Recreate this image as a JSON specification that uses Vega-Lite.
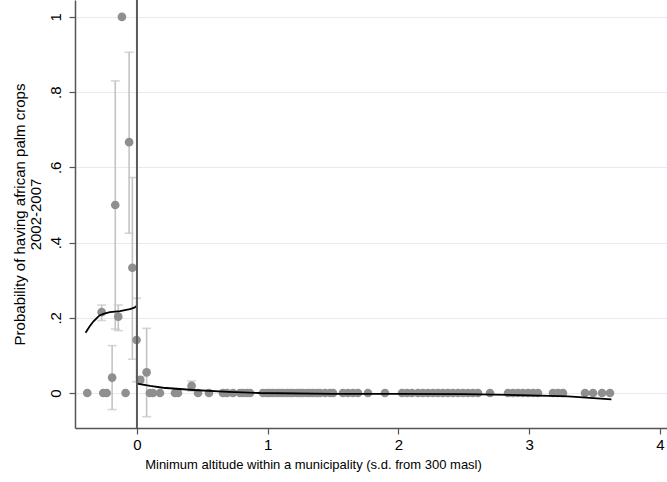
{
  "$schema": "https://vega.github.io/schema/vega-lite/v6.json",
  "width": 592,
  "height": 428,
  "autosize": {"type": "none"},
  "padding": {"left": 75, "top": 0, "right": 0, "bottom": 54},
  "config": {
    "view": {"stroke": null},
    "font": "Liberation Sans",
    "axis": {"labelFont": "Liberation Sans", "titleFont": "Liberation Sans", "labelColor": "#000", "titleColor": "#000", "titleFontWeight": "normal", "domainColor": "#555", "tickColor": "#555", "domainWidth": 1.5, "tickWidth": 1.2}
  },
  "datasets": {
    "pts": [
      {"x": -0.38, "y": 0},
      {"x": -0.27, "y": 0.215, "lo": 0.193, "hi": 0.234},
      {"x": -0.258, "y": 0},
      {"x": -0.232, "y": 0},
      {"x": -0.19, "y": 0.041, "lo": -0.044, "hi": 0.126},
      {"x": -0.166, "y": 0.5, "lo": 0.17, "hi": 0.83},
      {"x": -0.143, "y": 0.203, "lo": 0.166, "hi": 0.234},
      {"x": -0.115, "y": 1.0},
      {"x": -0.087, "y": 0},
      {"x": -0.06, "y": 0.667, "lo": 0.425, "hi": 0.906},
      {"x": -0.035, "y": 0.333, "lo": 0.09, "hi": 0.573},
      {"x": -0.003, "y": 0.141, "lo": 0.03, "hi": 0.252},
      {"x": 0.025, "y": 0.035, "lo": 0.028, "hi": 0.043},
      {"x": 0.074, "y": 0.055, "lo": -0.063, "hi": 0.172},
      {"x": 0.099, "y": 0}, {"x": 0.122, "y": 0}, {"x": 0.176, "y": 0},
      {"x": 0.291, "y": 0}, {"x": 0.314, "y": 0},
      {"x": 0.418, "y": 0.019, "lo": 0.005, "hi": 0.032},
      {"x": 0.467, "y": 0}, {"x": 0.551, "y": 0}, {"x": 0.658, "y": 0},
      {"x": 0.689, "y": 0}, {"x": 0.735, "y": 0}, {"x": 0.788, "y": 0},
      {"x": 0.811, "y": 0}, {"x": 0.842, "y": 0}, {"x": 0.865, "y": 0},
      {"x": 0.964, "y": 0}, {"x": 0.995, "y": 0}, {"x": 1.018, "y": 0},
      {"x": 1.041, "y": 0}, {"x": 1.071, "y": 0}, {"x": 1.094, "y": 0},
      {"x": 1.117, "y": 0}, {"x": 1.148, "y": 0}, {"x": 1.171, "y": 0},
      {"x": 1.194, "y": 0}, {"x": 1.224, "y": 0}, {"x": 1.247, "y": 0},
      {"x": 1.27, "y": 0}, {"x": 1.301, "y": 0}, {"x": 1.324, "y": 0},
      {"x": 1.347, "y": 0}, {"x": 1.377, "y": 0}, {"x": 1.4, "y": 0},
      {"x": 1.439, "y": 0}, {"x": 1.477, "y": 0}, {"x": 1.5, "y": 0},
      {"x": 1.576, "y": 0}, {"x": 1.614, "y": 0}, {"x": 1.653, "y": 0},
      {"x": 1.691, "y": 0}, {"x": 1.767, "y": 0}, {"x": 1.897, "y": 0},
      {"x": 2.028, "y": 0}, {"x": 2.066, "y": 0}, {"x": 2.104, "y": 0},
      {"x": 2.15, "y": 0}, {"x": 2.188, "y": 0}, {"x": 2.226, "y": 0},
      {"x": 2.265, "y": 0}, {"x": 2.303, "y": 0}, {"x": 2.341, "y": 0},
      {"x": 2.379, "y": 0}, {"x": 2.417, "y": 0}, {"x": 2.456, "y": 0},
      {"x": 2.494, "y": 0}, {"x": 2.532, "y": 0}, {"x": 2.57, "y": 0},
      {"x": 2.609, "y": 0}, {"x": 2.701, "y": 0}, {"x": 2.839, "y": 0},
      {"x": 2.877, "y": 0}, {"x": 2.915, "y": 0}, {"x": 2.953, "y": 0},
      {"x": 2.992, "y": 0}, {"x": 3.03, "y": 0}, {"x": 3.068, "y": 0},
      {"x": 3.183, "y": 0}, {"x": 3.221, "y": 0}, {"x": 3.259, "y": 0},
      {"x": 3.428, "y": 0}, {"x": 3.489, "y": 0}, {"x": 3.558, "y": 0},
      {"x": 3.619, "y": 0}
    ],
    "fit": [
      {"side": "left", "x": -0.393, "y": 0.16},
      {"side": "left", "x": -0.36, "y": 0.178},
      {"side": "left", "x": -0.334, "y": 0.19},
      {"side": "left", "x": -0.3, "y": 0.202},
      {"side": "left", "x": -0.283, "y": 0.207},
      {"side": "left", "x": -0.25, "y": 0.211},
      {"side": "left", "x": -0.207, "y": 0.215},
      {"side": "left", "x": -0.13, "y": 0.218},
      {"side": "left", "x": -0.054, "y": 0.223},
      {"side": "left", "x": -0.02, "y": 0.227},
      {"side": "left", "x": 0.0, "y": 0.232},
      {"side": "right", "x": 0.0, "y": 0.025},
      {"side": "right", "x": 0.1, "y": 0.019},
      {"side": "right", "x": 0.2, "y": 0.014},
      {"side": "right", "x": 0.43, "y": 0.008},
      {"side": "right", "x": 0.7, "y": 0.003},
      {"side": "right", "x": 0.94, "y": 0.0},
      {"side": "right", "x": 1.5, "y": -0.002},
      {"side": "right", "x": 2.0, "y": -0.002},
      {"side": "right", "x": 2.5, "y": -0.003},
      {"side": "right", "x": 3.0, "y": -0.006},
      {"side": "right", "x": 3.3, "y": -0.009},
      {"side": "right", "x": 3.63, "y": -0.017}
    ]
  },
  "encoding": {
    "x": {
      "field": "x", "type": "quantitative",
      "scale": {"domain": [-0.474, 4.055], "nice": false, "zero": false},
      "axis": {"values": [0, 1, 2, 3, 4], "grid": false, "tickSize": 6,
        "labelFontSize": 15, "labelPadding": 3,
        "titleFontSize": 13, "titlePadding": 6, "titleX": 238, "titleAlign": "center",
        "title": "Minimum altitude within a municipality (s.d. from 300 masl)"}
    },
    "y": {
      "field": "y", "type": "quantitative",
      "scale": {"domain": [-0.093, 1.045], "nice": false, "zero": false},
      "axis": {"values": [0, 0.2, 0.4, 0.6, 0.8, 1], "grid": true, "gridColor": "#e4eded", "gridWidth": 1,
        "labelExpr": "datum.value == 0 ? '0' : datum.value == 1 ? '1' : replace(format(datum.value, '.1f'), '0.', '.')",
        "labelAngle": -90, "labelAlign": "center", "labelBaseline": "bottom", "labelPadding": 6, "labelFontSize": 15, "tickSize": 6,
        "title": ["Probability of having african palm crops", "2002-2007"], "titleFontSize": 15, "titlePadding": 5, "titleLineHeight": 16}
    }
  },
  "layer": [
    {
      "data": {"name": "pts"},
      "transform": [{"filter": "isValid(datum.lo)"}],
      "mark": {"type": "rule", "color": "#c4c4c4", "strokeWidth": 1.6},
      "encoding": {"y": {"field": "lo", "type": "quantitative"}, "y2": {"field": "hi"}}
    },
    {
      "data": {"name": "pts"},
      "transform": [{"filter": "isValid(datum.lo)"}],
      "mark": {"type": "tick", "orient": "horizontal", "color": "#c4c4c4", "thickness": 1.6, "size": 9},
      "encoding": {"y": {"field": "lo", "type": "quantitative"}}
    },
    {
      "data": {"name": "pts"},
      "transform": [{"filter": "isValid(datum.hi)"}],
      "mark": {"type": "tick", "orient": "horizontal", "color": "#c4c4c4", "thickness": 1.6, "size": 9},
      "encoding": {"y": {"field": "hi", "type": "quantitative"}}
    },
    {
      "data": {"name": "pts"},
      "mark": {"type": "circle", "color": "#8f8f8f", "opacity": 1, "size": 75},
      "encoding": {}
    },
    {
      "data": {"name": "fit"},
      "mark": {"type": "line", "color": "#000", "strokeWidth": 1.8},
      "encoding": {"detail": {"field": "side"}}
    },
    {
      "data": {"values": [{"v": 0}]},
      "mark": {"type": "rule", "color": "#5a5a5a", "strokeWidth": 2},
      "encoding": {"x": {"field": "v", "type": "quantitative"}, "y": null}
    }
  ]
}
